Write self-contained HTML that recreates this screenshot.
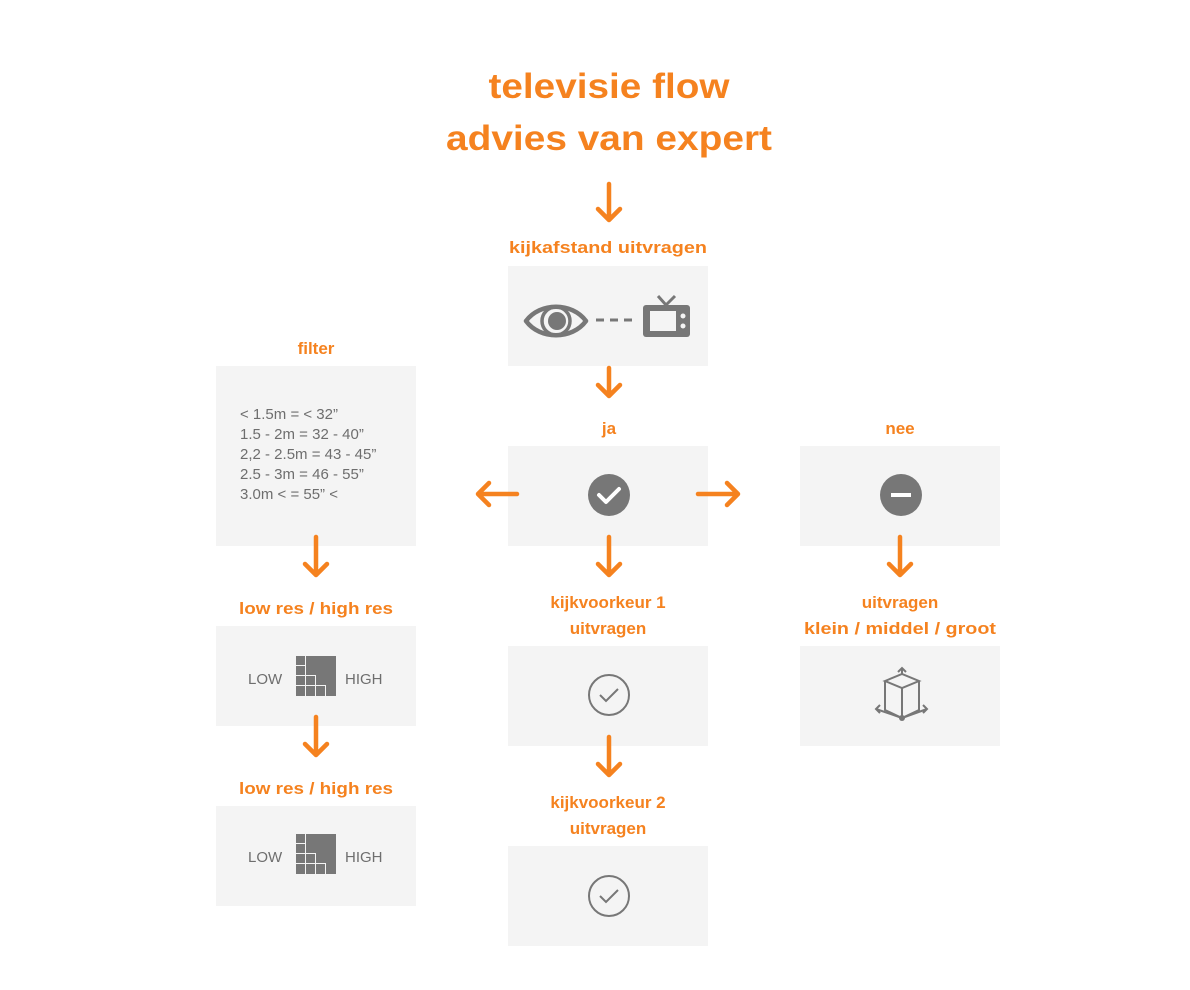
<!DOCTYPE html>
<html><head><meta charset="utf-8"><style>
html,body{margin:0;padding:0;background:#fff;}
svg{display:block;}
.t{font-family:"Liberation Sans",sans-serif;font-weight:bold;fill:#f5821f;text-anchor:middle;}
.l{font-family:"Liberation Sans",sans-serif;font-weight:bold;fill:#f5821f;text-anchor:middle;font-size:17px;}
.g{font-family:"Liberation Sans",sans-serif;fill:#6e6e6e;font-size:15px;}
.a{stroke:#f5821f;stroke-width:4.5;stroke-linecap:round;stroke-linejoin:round;fill:none;}
</style></head><body>
<svg width="1190" height="990" viewBox="0 0 1190 990">
<rect width="1190" height="990" fill="#fff"/>
<text class="t" x="609" y="98" font-size="35" textLength="241" lengthAdjust="spacingAndGlyphs">televisie flow</text>
<text class="t" x="609" y="150" font-size="35" textLength="326" lengthAdjust="spacingAndGlyphs">advies van expert</text>

<g fill="#f4f4f4">
<rect x="508" y="266" width="200" height="100"/>
<rect x="216" y="366" width="200" height="180"/>
<rect x="508" y="446" width="200" height="100"/>
<rect x="800" y="446" width="200" height="100"/>
<rect x="216" y="626" width="200" height="100"/>
<rect x="216" y="806" width="200" height="100"/>
<rect x="508" y="646" width="200" height="100"/>
<rect x="508" y="846" width="200" height="100"/>
<rect x="800" y="646" width="200" height="100"/>
</g>

<text class="l" x="608" y="253" textLength="198" lengthAdjust="spacingAndGlyphs">kijkafstand uitvragen</text>
<text class="l" x="316" y="354">filter</text>
<text class="l" x="609" y="434">ja</text>
<text class="l" x="900" y="434">nee</text>
<text class="l" x="316" y="614" textLength="154" lengthAdjust="spacingAndGlyphs">low res / high res</text>
<text class="l" x="316" y="794" textLength="154" lengthAdjust="spacingAndGlyphs">low res / high res</text>
<text class="l" x="608" y="608">kijkvoorkeur 1</text>
<text class="l" x="608" y="634">uitvragen</text>
<text class="l" x="608" y="808">kijkvoorkeur 2</text>
<text class="l" x="608" y="834">uitvragen</text>
<text class="l" x="900" y="608">uitvragen</text>
<text class="l" x="900" y="634" textLength="192" lengthAdjust="spacingAndGlyphs">klein / middel / groot</text>

<g class="a">
<path d="M609 184V220M598 209L609 220L620 209"/>
<path d="M609 368V396M598 385L609 396L620 385"/>
<path d="M609 537V575M598 564L609 575L620 564"/>
<path d="M316 537V575M305 564L316 575L327 564"/>
<path d="M900 537V575M889 564L900 575L911 564"/>
<path d="M316 717V755M305 744L316 755L327 744"/>
<path d="M609 737V775M598 764L609 775L620 764"/>
<path d="M517 494H478M489 483L478 494L489 505"/>
<path d="M698 494H738M727 483L738 494L727 505"/>
</g>

<g>
<path d="M526 321 C540 302 572 302 586 321 C572 340 540 340 526 321Z" fill="none" stroke="#777" stroke-width="4.5" stroke-linejoin="round"/>
<circle cx="556" cy="321" r="14" fill="none" stroke="#777" stroke-width="3.5"/>
<circle cx="557" cy="321" r="9" fill="#777"/>
<path d="M596 320H638" stroke="#777" stroke-width="3" stroke-dasharray="8 6"/>
<rect x="643" y="305" width="47" height="32" rx="3" fill="#777"/>
<rect x="650" y="311" width="26" height="20" fill="#f4f4f4"/>
<circle cx="683" cy="316" r="2.5" fill="#f4f4f4"/>
<circle cx="683" cy="326" r="2.5" fill="#f4f4f4"/>
<path d="M658 296L666 305L675 296" stroke="#777" stroke-width="3" fill="none"/>
</g>

<g class="g" font-size="14.5">
<text x="240" y="419">&lt; 1.5m = &lt; 32”</text>
<text x="240" y="439">1.5 - 2m = 32 - 40”</text>
<text x="240" y="459">2,2 - 2.5m = 43 - 45”</text>
<text x="240" y="479">2.5 - 3m = 46 - 55”</text>
<text x="240" y="499">3.0m &lt; = 55” &lt;</text>
</g>

<circle cx="609" cy="495" r="21" fill="#777"/>
<path d="M599 495L606 502L619 489" stroke="#fff" stroke-width="4" fill="none" stroke-linecap="round" stroke-linejoin="round"/>
<circle cx="901" cy="495" r="21" fill="#777"/>
<rect x="891" y="493" width="20" height="4" fill="#fff"/>

<g id="lh">
<text class="g" x="248" y="684" font-size="16">LOW</text>
<text class="g" x="345" y="684" font-size="16">HIGH</text>
<g fill="#777">
<rect x="296" y="656" width="9" height="9"/>
<rect x="296" y="666" width="9" height="9"/>
<rect x="296" y="676" width="9" height="9"/>
<rect x="296" y="686" width="9" height="10"/>
<rect x="306" y="676" width="9" height="9"/>
<rect x="306" y="686" width="9" height="10"/>
<rect x="316" y="686" width="9" height="10"/>
<path d="M306 656H336V696H326V685H316V675H306Z"/>
</g>
</g>
<use href="#lh" y="178"/>

<circle cx="609" cy="695" r="20" fill="none" stroke="#777" stroke-width="2"/>
<path d="M600 695L606 701L618 689" stroke="#777" stroke-width="2" fill="none"/>
<circle cx="609" cy="896" r="20" fill="none" stroke="#777" stroke-width="2"/>
<path d="M600 896L606 902L618 890" stroke="#777" stroke-width="2" fill="none"/>

<g stroke="#777" stroke-width="2" fill="none">
<path d="M885 681L902 674L919 681L902 688Z"/>
<path d="M885 681V710L902 718L919 710V681"/>
<path d="M902 688V718"/>
<path d="M902 674V668M898 672L902 668L906 672"/>
<path d="M902 718L876 709M880 705L876 709L880 713"/>
<path d="M902 718L927 709M923 705L927 709L923 713"/>
</g>
<circle cx="902" cy="718" r="3" fill="#777"/>
</svg>
</body></html>
